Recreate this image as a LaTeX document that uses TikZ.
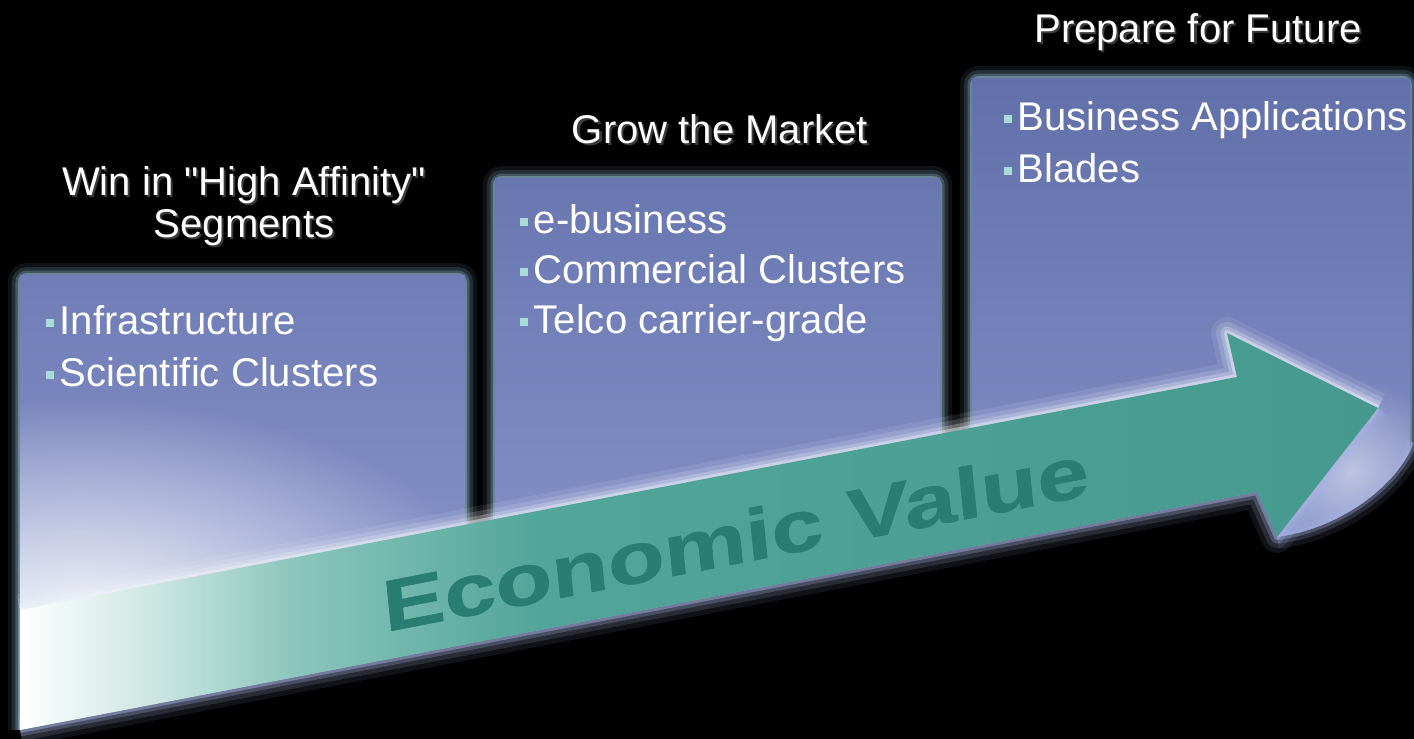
\documentclass[tikz,border=0pt]{standalone}
\usepackage{fontspec}
\setmainfont{Liberation Sans}[Ligatures={TeXOff,CommonOff}]
\newfontfamily\valuefont{Liberation Sans}[BoldFeatures={FakeBold=0.8}]
\usetikzlibrary{fadings}
\definecolor{panelTop}{HTML}{6270AA}
\definecolor{panelBot}{HTML}{909CD2}
\definecolor{glowc}{HTML}{8DB6CC}
\definecolor{haloc}{HTML}{EEF2FA}
\definecolor{lowhaloc}{HTML}{A8B4E4}
\definecolor{arrowLight}{HTML}{8CC6BC}
\definecolor{arrowMain}{HTML}{52A59A}
\definecolor{arrowDark}{HTML}{46998F}
\definecolor{valuec}{HTML}{2A7D72}
\definecolor{bulletc}{HTML}{A8DCD6}
\definecolor{titleShadow}{HTML}{3A3A3A}
\pgfdeclarehorizontalshading{arrowshade}{100bp}{color(0bp)=(white); color(25bp)=(white); color(30bp)=(white!55!arrowLight); color(35bp)=(arrowLight); color(44bp)=(arrowMain); color(75bp)=(arrowDark); color(100bp)=(arrowDark)}
\tikzfading[name=soft glow, inner color=transparent!0, outer color=transparent!100]
\newcommand{\bul}{\textcolor{bulletc}{\rule[0.17em]{0.2em}{0.2em}}\hspace{0.15em}}
\newcommand{\shad}[1]{\makebox[0pt][l]{\hspace{0.6pt}\raisebox{-0.6pt}{\textcolor{titleShadow}{#1}}}#1}

\begin{document}
\begin{tikzpicture}[font=\fontsize{11.4}{14.5}\selectfont,
	bullet line/.style={anchor=base west, inner sep=0pt, text=white},
	heading/.style={anchor=base, inner sep=0pt, text=white, align=center, font=\fontsize{11.4}{11.95}\selectfont},
	value text/.style={anchor=base, inner sep=0pt, text=valuec, font=\fontsize{20.5}{21}\valuefont\bfseries, rotate=11, xscale=1.3, xslant=0.07}]
	\useasboundingbox (0,0) rectangle (14.14,-7.38);
	\fill[black] (0,0) rectangle (14.14,-7.38);
	% glow round the panels
	\foreach \xa/\xb/\yt in {0.20/4.65/-2.75, 4.95/9.40/-1.78, 9.72/14.10/-0.78}
	  \foreach \w/\o in {2.4mm/0.10, 1.6mm/0.18, 0.9mm/0.30, 0.4mm/0.5}
	    \draw[glowc, line width=\w, opacity=\o, rounded corners=2pt] (\xa,-7.6) -- (\xa,\yt) -- (\xb,\yt) -- (\xb,-7.6);
	\begin{scope}
	  \clip (0.20,-2.75) rectangle (4.65,-7.6) (4.95,-1.78) rectangle (9.40,-7.6) (9.72,-0.78) rectangle (14.10,-7.6);
	  \shade[top color=panelTop, bottom color=panelBot] (0,-0.78) rectangle (14.14,-7.38);
	  \fill[white, path fading=soft glow, opacity=0.95] (0.8,-6.3) ellipse (4.2 and 2.3);
	  \fill[white, path fading=soft glow, opacity=0.5] (13.5,-4.7) ellipse (1.0 and 0.9);
	\end{scope}
	% arrow
	\coordinate (tailtop) at (0.20,-6.10);
	\coordinate (jointtop) at (12.37,-3.77);
	\coordinate (barbtop) at (12.27,-3.33);
	\coordinate (tip) at (13.78,-4.08);
	\coordinate (barbbot) at (12.77,-5.37);
	\coordinate (jointbot) at (12.57,-4.92);
	\coordinate (tailbot) at (0.20,-7.30);
	\fill[black] (tailbot) -- (jointbot) -- (barbbot) .. controls (13.35,-5.30) and (13.95,-4.90) .. (14.14,-4.43) -- (14.14,-7.6) -- (0,-7.6) -- (0,-7.30) -- cycle;
	\foreach \w/\o in {3.2mm/0.10, 2.2mm/0.16, 1.3mm/0.26, 0.6mm/0.45}{
	  \draw[haloc, line width=\w, opacity=\o, line join=round] (tailtop) -- (jointtop) -- (barbtop) -- (tip);
	  \draw[lowhaloc, line width=\w, opacity=\o, line join=round] (tip) -- (barbbot) -- (jointbot) -- (tailbot);
	}
	\foreach \w/\o in {2.4mm/0.10, 1.4mm/0.18, 0.6mm/0.3}
	  \draw[lowhaloc, line width=\w, opacity=\o] (barbbot) .. controls (13.35,-5.30) and (13.95,-4.90) .. (14.14,-4.43);
	\shade[shading=arrowshade] (tailtop) -- (jointtop) -- (barbtop) -- (tip) -- (barbbot) -- (jointbot) -- (tailbot) -- cycle;
	\node[value text] (value) at (7.38,-5.635) {Economic Value};
	% headings
	\node[heading] (future) at (11.98,-0.42) {\shad{Prepare for Future}};
	\node[heading] (market) at (7.20,-1.43) {\shad{Grow the Market}};
	\node[heading] (affinity) at (2.44,-2.37) {\shad{Win in "High Affinity"}\\\shad{Segments}};
	% bullets
	\node[bullet line] (infra) at (0.45,-3.34) {\bul Infrastructure};
	\node[bullet line] (scicl) at (0.45,-3.86) {\bul Scientific Clusters};
	\node[bullet line] (ebiz) at (5.19,-2.33) {\bul e-business};
	\node[bullet line] (comcl) at (5.19,-2.83) {\bul Commercial Clusters};
	\node[bullet line] (telco) at (5.19,-3.33) {\bul Telco carrier-grade};
	\node[bullet line] (bizapp) at (10.03,-1.30) {\bul Business Applications};
	\node[bullet line] (blades) at (10.03,-1.82) {\bul Blades};
\end{tikzpicture}
\end{document}
